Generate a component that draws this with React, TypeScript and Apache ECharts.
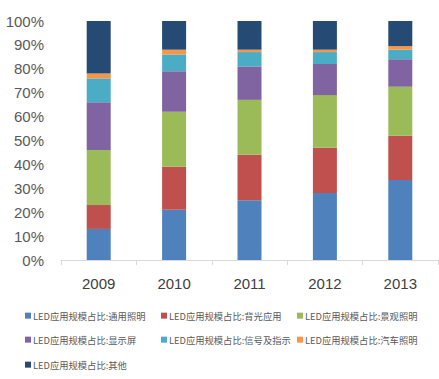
import React, { useEffect, useRef } from "react";
import * as echarts from "echarts";

const categories = ["2009", "2010", "2011", "2012", "2013"];
const seriesNames = [
  "LED应用规模占比:通用照明",
  "LED应用规模占比:背光应用",
  "LED应用规模占比:景观照明",
  "LED应用规模占比:显示屏",
  "LED应用规模占比:信号及指示",
  "LED应用规模占比:汽车照明",
  "LED应用规模占比:其他",
];
const general = [13, 21, 25, 28, 33.5];
const backlight = [10, 18, 19, 19, 18.5];
const landscape = [23, 23, 23, 22, 20.5];
const display = [20, 17, 14, 13, 11.5];
const signal = [10, 7, 6, 5, 4];
const auto = [2, 2, 1, 1, 1.5];
const other = [22, 12, 12, 12, 10.5];
const seriesValues = [general, backlight, landscape, display, signal, auto, other];
const colors = ["#4F81BD", "#C0504D", "#9BBB59", "#8064A2", "#4BACC6", "#F79646", "#254A74"];
const yTicks = [0, 10, 20, 30, 40, 50, 60, 70, 80, 90, 100];

const legendPos = [
  [25, 311], [161, 311], [297, 311],
  [25, 335], [161, 335], [297, 335],
  [25, 360],
];

export default function App() {
  const ref = useRef<HTMLDivElement>(null);
  useEffect(() => {
    const chart = echarts.init(ref.current!, null, { renderer: "svg" });
    chart.setOption({
      animation: false,
      backgroundColor: "#fff",
      color: colors,
      grid: { left: 61, top: 21, width: 377, height: 239, containLabel: false },
      legend: seriesNames.map((n, i) => ({
        data: [n],
        left: legendPos[i][0],
        top: legendPos[i][1],
        icon: "rect",
        itemWidth: 6,
        itemHeight: 6,
        itemGap: 0,
        padding: 0,
        textStyle: { fontSize: 9.3, color: "#595959", fontFamily: "Noto Sans CJK SC", padding: [0, 0, 0, -3] },
      })),
      xAxis: {
        type: "category",
        data: categories,
        axisLine: { show: true, lineStyle: { color: "#D9D9D9" } },
        axisTick: { show: true, alignWithLabel: false, length: 5, lineStyle: { color: "#D9D9D9" } },
        axisLabel: { fontSize: 15, color: "#404040", margin: 16, fontFamily: "Liberation Sans" },
      },
      yAxis: {
        type: "value",
        min: 0,
        max: 100,
        interval: 10,
        axisLine: { show: false },
        axisTick: { show: false },
        splitLine: { show: false },
        axisLabel: {
          fontSize: 15,
          color: "#595959",
          margin: 17,
          fontFamily: "Liberation Sans",
          formatter: (v: number) => (yTicks.includes(v) ? v + "%" : ""),
        },
      },
      series: seriesNames.map((n, i) => ({
        name: n,
        type: "bar",
        stack: "total",
        barWidth: 24,
        data: seriesValues[i],
        itemStyle: { color: colors[i] },
      })),
    });
    return () => chart.dispose();
  }, []);
  return <div ref={ref} style={{ width: 439, height: 379, position: "absolute", left: 0, top: 0 }} />;
}
